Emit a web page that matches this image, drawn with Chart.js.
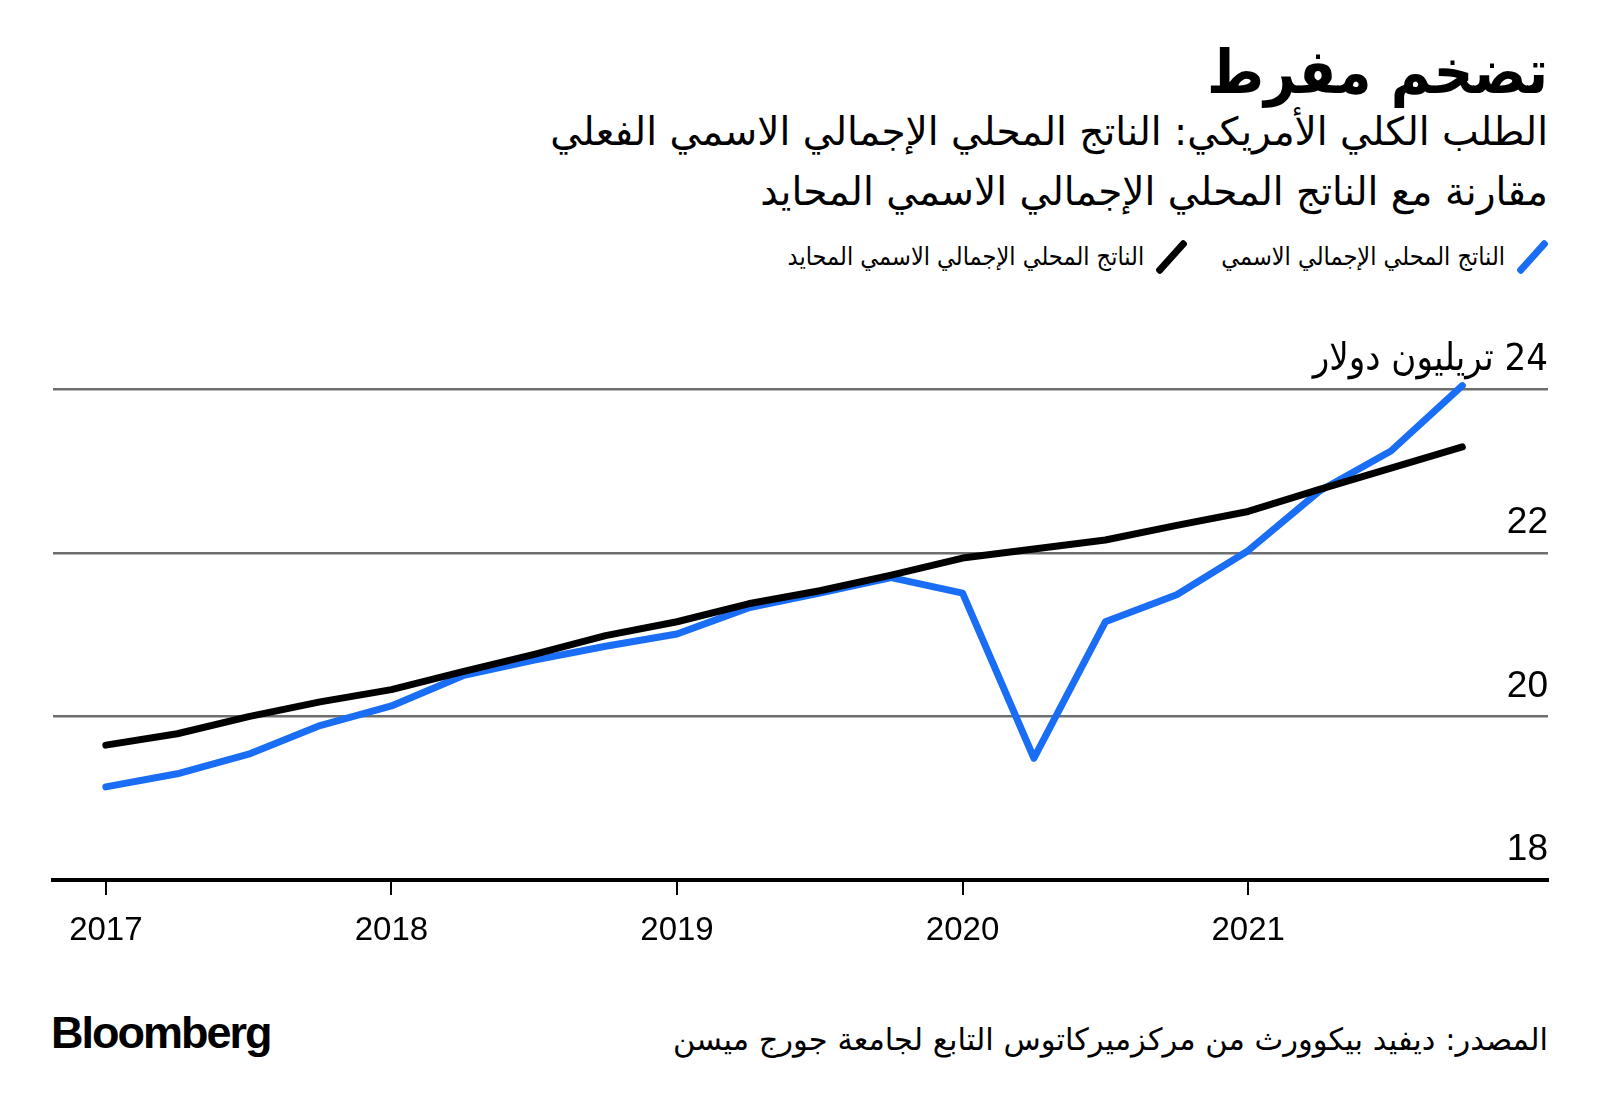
<!DOCTYPE html>
<html lang="ar">
<head>
<meta charset="utf-8">
<script src="https://cdn.jsdelivr.net/npm/chart.js@4"></script>
<style>
  html, body { margin: 0; padding: 0; background: #fff; }
  body { width: 1600px; height: 1112px; position: relative; overflow: hidden;
         font-family: "DejaVu Sans", sans-serif; color: #000; }
  .rtl { position: absolute; right: 52px; direction: rtl; text-align: right; white-space: nowrap; }
  #title { top: 34px; font-family: "DejaVu Sans Condensed", "DejaVu Sans", sans-serif;
           font-size: 61px; font-weight: bold; line-height: 76px; }
  #sub1 { top: 106px; font-size: 39px; line-height: 52px; }
  #sub2 { top: 166px; font-size: 39px; line-height: 52px; }
  #legend { top: 236px; font-family: "DejaVu Sans Condensed", "DejaVu Sans", sans-serif;
            font-size: 25px; line-height: 36px; display: flex; gap: 34px; }
  .item { display: flex; align-items: center; gap: 12px; }
  .slash { width: 7px; height: 42px; border-radius: 3px; transform: rotate(42deg); margin: 0 12px; }
  #source { top: 1018px; font-size: 30.5px; line-height: 44px; }
  #logo { position: absolute; left: 51px; top: 1005px; font-family: "Liberation Sans", Arial, sans-serif;
          font-weight: bold; font-size: 45px; letter-spacing: -2px; line-height: 56px; }
  #wrap { position: absolute; left: 0; top: 300px; width: 1600px; height: 700px; }
</style>
</head>
<body>
<div id="title" class="rtl">تضخم مفرط</div>
<div id="sub1" class="rtl">الطلب الكلي الأمريكي: الناتج المحلي الإجمالي الاسمي الفعلي</div>
<div id="sub2" class="rtl">مقارنة مع الناتج المحلي الإجمالي الاسمي المحايد</div>
<div id="legend" class="rtl">
  <div class="item"><span class="slash" style="background:#1a6ef5"></span><span>الناتج المحلي الإجمالي الاسمي</span></div>
  <div class="item"><span class="slash" style="background:#000"></span><span>الناتج المحلي الإجمالي الاسمي المحايد</span></div>
</div>
<div id="wrap"><canvas id="chart"></canvas></div>
<div id="logo">Bloomberg</div>
<div id="source" class="rtl">المصدر: ديفيد بيكوورث من مركزميركاتوس التابع لجامعة جورج ميسن</div>

<script>
// Quarters as decimal years, 2017 Q1 .. 2021 Q4
const quarters = [2017, 2017.25, 2017.5, 2017.75, 2018, 2018.25, 2018.5, 2018.75,
                  2019, 2019.25, 2019.5, 2019.75, 2020, 2020.25, 2020.5, 2020.75,
                  2021, 2021.25, 2021.5, 2021.75];

// Nominal GDP (trillion dollars)
const nominalGdp = [19.14, 19.30, 19.54, 19.89, 20.13, 20.50, 20.69, 20.86,
                    21.01, 21.33, 21.51, 21.70, 21.51, 19.49, 21.16, 21.49,
                    22.03, 22.76, 23.25, 24.05];

// Neutral nominal GDP (trillion dollars)
const neutralGdp = [19.65, 19.79, 20.00, 20.18, 20.33, 20.55, 20.76, 20.99,
                    21.16, 21.38, 21.54, 21.73, 21.94, 22.05, 22.16, 22.34,
                    22.51, 22.78, 23.04, 23.30];

const yearTicks = [2017, 2018, 2019, 2020, 2021];
const valueTicks = [18, 20, 22, 24];
const unitLabel = 'تريليون دولار';

const toPoints = vals => vals.map((v, i) => ({ x: quarters[i], y: v }));

// Y labels sit above their gridlines, right aligned
const yLabels = {
  id: 'yLabels',
  afterDraw(chart) {
    const { ctx, chartArea, scales } = chart;
    ctx.save();
    ctx.fillStyle = '#000';
    ctx.direction = 'rtl';
    ctx.textAlign = 'right';
    ctx.textBaseline = 'alphabetic';
    valueTicks.forEach(v => {
      const y = scales.y.getPixelForValue(v) - 20;
      if (v === 24) {
        ctx.font = '38px "DejaVu Sans Condensed", "Liberation Sans", sans-serif';
        ctx.fillText(v + ' ' + unitLabel, chartArea.right, y);
      } else {
        ctx.font = '37px "Liberation Sans", Arial, sans-serif';
        ctx.fillText(String(v), chartArea.right, y);
      }
    });
    ctx.restore();
  }
};

new Chart(document.getElementById('chart'), {
  type: 'line',
  data: {
    datasets: [
      {
        label: 'الناتج المحلي الإجمالي الاسمي المحايد',
        data: toPoints(neutralGdp),
        borderColor: '#000',
        borderWidth: 7,
        borderCapStyle: 'round',
        borderJoinStyle: 'round',
        pointRadius: 0,
        tension: 0
      },
      {
        label: 'الناتج المحلي الإجمالي الاسمي',
        data: toPoints(nominalGdp),
        borderColor: '#1a6ef5',
        borderWidth: 7,
        borderCapStyle: 'round',
        borderJoinStyle: 'round',
        pointRadius: 0,
        tension: 0
      }
    ]
  },
  options: {
    responsive: true,
    maintainAspectRatio: false,
    animation: false,
    layout: { padding: { left: 53, right: 52, top: 57, bottom: 0 } },
    plugins: { legend: { display: false }, tooltip: { enabled: false } },
    scales: {
      x: {
        type: 'linear',
        min: 2016.815,
        max: 2022.05,
        afterBuildTicks: s => { s.ticks = yearTicks.map(v => ({ value: v })); },
        afterFit: s => { s.height = 120; },
        grid: { drawOnChartArea: false, drawTicks: true, tickLength: 15, color: '#000', lineWidth: 2 },
        border: { display: true, color: '#000', width: 4 },
        ticks: {
          color: '#000',
          padding: 16,
          maxRotation: 0,
          font: { family: '"Liberation Sans", Arial', size: 33 },
          callback: v => String(v)
        }
      },
      y: {
        position: 'right',
        min: 18,
        max: 24.4,
        afterBuildTicks: s => { s.ticks = valueTicks.map(v => ({ value: v })); },
        afterFit: s => { s.width = 0; },
        grid: { drawTicks: false, color: '#6e6e6e', lineWidth: 2.5 },
        border: { display: false },
        ticks: { display: false }
      }
    }
  },
  plugins: [yLabels]
});
</script>
</body>
</html>
